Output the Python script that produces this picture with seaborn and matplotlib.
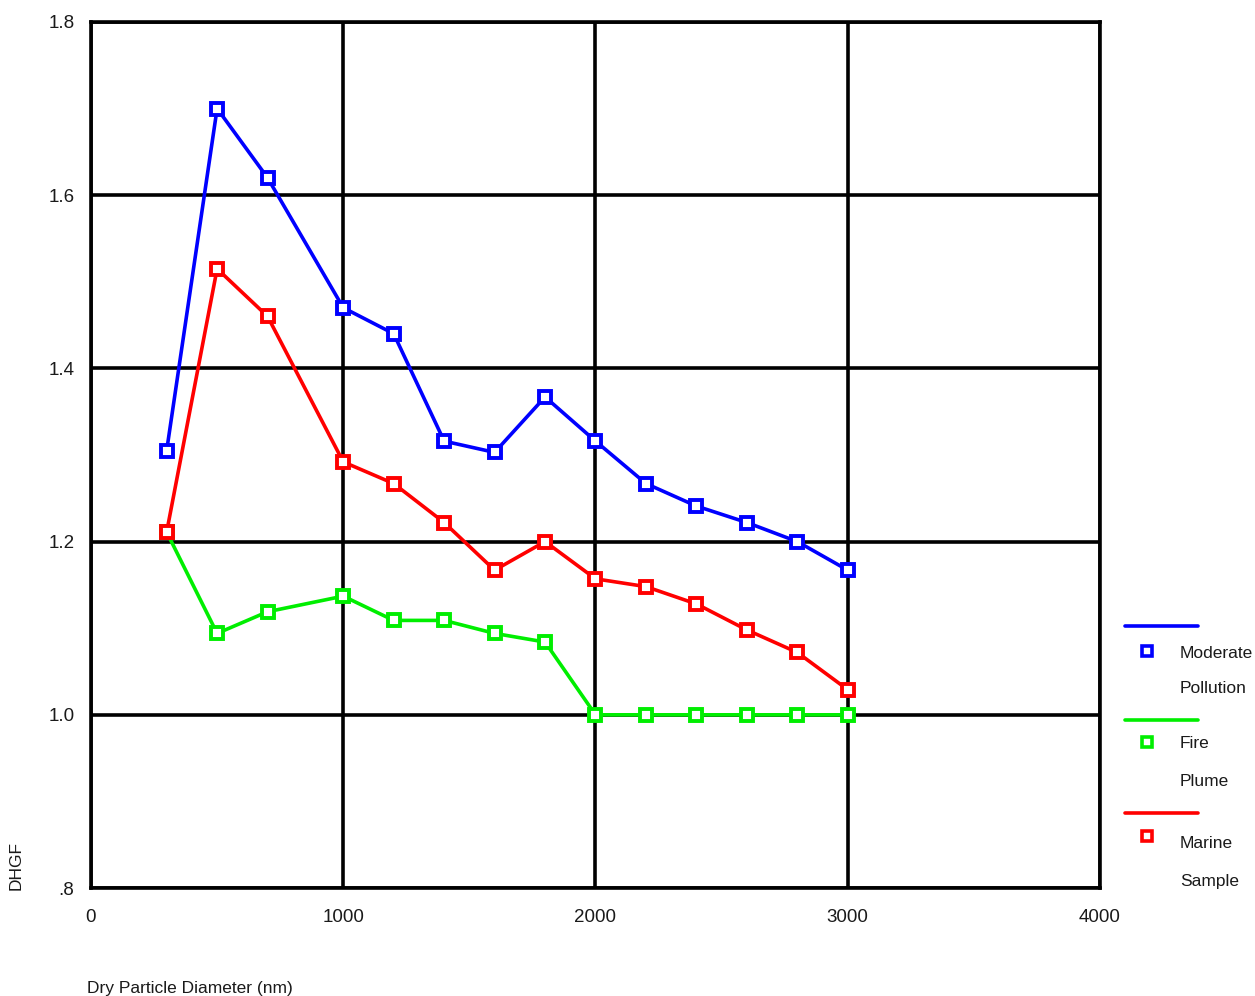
import numpy as np
import pandas as pd
import matplotlib
matplotlib.use('Agg')
import matplotlib.pyplot as plt
import seaborn as sns

# --------------------
# DATA
# --------------------
diameter = [300, 500, 700, 1000, 1200, 1400, 1600, 1800, 2000, 2200, 2400, 2600, 2800, 3000]
moderate_pollution = [1.305, 1.70, 1.62, 1.47, 1.44, 1.316, 1.303, 1.367, 1.316, 1.267, 1.241, 1.222, 1.20, 1.167]
fire_plume = [1.211, 1.094, 1.119, 1.137, 1.109, 1.109, 1.094, 1.084, 1.0, 1.0, 1.0, 1.0, 1.0, 1.0]
marine_sample = [1.211, 1.515, 1.46, 1.292, 1.267, 1.222, 1.167, 1.20, 1.157, 1.148, 1.128, 1.098, 1.072, 1.029]
series_names = ['Moderate Pollution', 'Fire Plume', 'Marine Sample']
x_ticks = [0, 1000, 2000, 3000, 4000]
y_ticks = [0.8, 1.0, 1.2, 1.4, 1.6, 1.8]
y_tick_labels = ['.8', '1.0', '1.2', '1.4', '1.6', '1.8']

colors = {'Moderate Pollution': '#0000ff', 'Fire Plume': '#00ee00', 'Marine Sample': '#ff0000'}

df = pd.concat([
    pd.DataFrame({'x': diameter, 'y': vals, 'series': name})
    for name, vals in zip(series_names, [moderate_pollution, fire_plume, marine_sample])
])

# --------------------
# PLOT
# --------------------
sns.set_style('white')
plt.rcParams['font.family'] = ['Liberation Sans', 'DejaVu Sans']
tick_fs = 13.5
fs = 12.5
txt_color = '#1a1a1a'

fig = plt.figure(figsize=(12.55, 9.96), dpi=100)
ax = fig.add_axes([0.0725, 0.1084, 0.804, 0.8696])

sns.lineplot(data=df, x='x', y='y', hue='series', palette=colors, hue_order=series_names,
             marker='s', markersize=8, markerfacecolor='white', markeredgewidth=2.8,
             linewidth=2.6, legend=False, ax=ax, zorder=3)
# seaborn paints marker edges white; give them the line colour
for line in ax.lines:
    line.set_markeredgecolor(line.get_color())

ax.set_xlim(0, 4000)
ax.set_ylim(0.8, 1.8)
ax.set_xticks(x_ticks)
ax.set_yticks(y_ticks)
ax.set_yticklabels(y_tick_labels)
ax.grid(True, color='black', linewidth=2.6)
for s in ax.spines.values():
    s.set_color('black')
    s.set_linewidth(2.6)
ax.tick_params(axis='both', direction='out', length=4, width=2, color='black',
               labelsize=tick_fs, labelcolor=txt_color)
ax.tick_params(axis='x', pad=11)
ax.tick_params(axis='y', pad=8)
ax.set_xlabel('')
ax.set_ylabel('')

fig.text(87 / 1255, 1 - 988 / 996, 'Dry Particle Diameter (nm)', fontsize=fs,
         color=txt_color, ha='left', va='center')
fig.text(16 / 1255, 1 - 865 / 996, 'DHGF', fontsize=fs, color=txt_color,
         rotation=90, ha='center', va='center')

# legend drawn by hand: line, marker, two-line label (pixel rows from the top)
legend_rows = [(626, 651, 654, 688, 'Moderate', 'Pollution'),
               (720, 742, 743, 781, 'Fire', 'Plume'),
               (813, 836, 843, 881, 'Marine', 'Sample')]
for name, (yline, ymark, yt1, yt2, l1, l2) in zip(series_names, legend_rows):
    c = colors[name]
    yl = 1 - yline / 996
    fig.add_artist(plt.Line2D([1125 / 1255, 1198 / 1255], [yl, yl], color=c, linewidth=2.6,
                              transform=fig.transFigure))
    fig.add_artist(plt.Line2D([1147 / 1255], [1 - ymark / 996], color=c, marker='s',
                              markersize=7, markerfacecolor='white', markeredgewidth=2.6,
                              transform=fig.transFigure))
    fig.text(1180 / 1255, 1 - yt1 / 996, l1, fontsize=fs, color=txt_color, va='center')
    fig.text(1180 / 1255, 1 - yt2 / 996, l2, fontsize=fs, color=txt_color, va='center')

fig.savefig('out.png', dpi=100, facecolor='white')
